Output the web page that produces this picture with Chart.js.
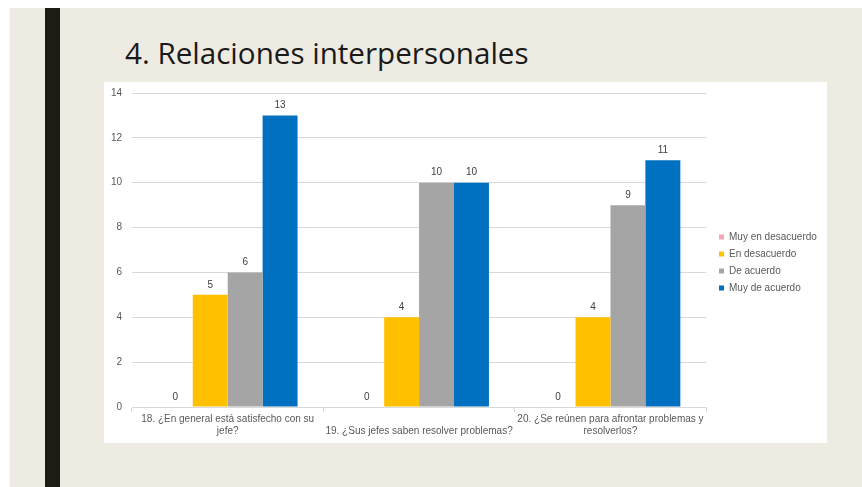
<!DOCTYPE html>
<html>
<head>
<meta charset="utf-8">
<script src="https://cdn.jsdelivr.net/npm/chart.js@4"></script>
<style>
  html, body { margin: 0; padding: 0; background: #ffffff; }
  body { width: 862px; height: 487px; position: relative; overflow: hidden; }
  #slide { position: absolute; left: 10px; top: 8px; width: 852px; height: 479px; background: #eeebe3; }
  #bar { position: absolute; left: 45px; top: 8px; width: 15px; height: 479px; background: #1c1c14; }
  #title { position: absolute; left: 125px; top: 38px; font-family: 'Open Sans', sans-serif; font-size: 29.6px; line-height: 30px; color: #1a1a1a; white-space: nowrap; }
  #box { position: absolute; left: 104px; top: 82px; width: 723px; height: 361px; background: #ffffff; }
</style>
</head>
<body>
<div id="slide"></div>
<div id="bar"></div>
<div id="title">4. Relaciones interpersonales</div>
<div id="box"><canvas id="relaciones_chart" width="723" height="361"></canvas></div>
<script>
const categories = [
  ['18. ¿En general está satisfecho con su', 'jefe?'],
  ['', '19. ¿Sus jefes saben resolver problemas?'],
  ['20. ¿Se reúnen para afrontar problemas y', 'resolverlos?'],
]
const seriesNames = ['Muy en desacuerdo', 'En desacuerdo', 'De acuerdo', 'Muy de acuerdo']
const muyEnDesacuerdo = [0, 0, 0]
const enDesacuerdo = [5, 4, 4]
const deAcuerdo = [6, 10, 9]
const muyDeAcuerdo = [13, 10, 11]
const yTicks = [0, 2, 4, 6, 8, 10, 12, 14]

const colors = ['#f2a7b6', '#ffc000', '#a5a5a5', '#0070c0']
const textColor = '#595959'
const gridColor = '#d9d9d9'

// put the legend where Excel puts it: centred on the whole chart box
const legendPlace = {
  id: 'legendPlace',
  afterLayout(chart) {
    const l = chart.legend
    l.top = 0
    l.bottom = chart.height
    l.left = 608
    l.right = 608 + l.width
  },
}

// value labels above each bar
const barValues = {
  id: 'barValues',
  afterDatasetsDraw(chart) {
    const ctx = chart.ctx
    ctx.save()
    ctx.font = '10px "Liberation Sans", Arial, sans-serif'
    ctx.fillStyle = '#404040'
    ctx.textAlign = 'center'
    ctx.textBaseline = 'middle'
    chart.data.datasets.forEach((ds, i) => {
      chart.getDatasetMeta(i).data.forEach((bar, j) => {
        ctx.fillText(ds.data[j], bar.x, bar.y - 10)
      })
    })
    ctx.restore()
  },
}

const ref = document.getElementById('relaciones_chart').getContext('2d')

new Chart(ref, {
  type: 'bar',
  data: {
    labels: categories,
    datasets: [
      { label: seriesNames[0], data: muyEnDesacuerdo, backgroundColor: colors[0] },
      { label: seriesNames[1], data: enDesacuerdo, backgroundColor: colors[1] },
      { label: seriesNames[2], data: deAcuerdo, backgroundColor: colors[2] },
      { label: seriesNames[3], data: muyDeAcuerdo, backgroundColor: colors[3] },
    ],
  },
  plugins: [legendPlace, barValues],
  options: {
    responsive: false,
    animation: false,
    devicePixelRatio: 1,
    layout: {
      padding: { top: 11, right: 6, bottom: 0, left: 0 },
    },
    datasets: {
      bar: {
        barPercentage: 1,
        categoryPercentage: 0.73,
      },
    },
    plugins: {
      legend: {
        position: 'right',
        labels: {
          boxWidth: 5,
          boxHeight: 5,
          padding: 7,
          color: textColor,
          font: { size: 10, family: '"Liberation Sans", Arial, sans-serif' },
        },
      },
      tooltip: { enabled: false },
    },
    scales: {
      x: {
        afterFit(scale) {
          scale.height = 36
        },
        grid: {
          offset: true,
          drawOnChartArea: false,
          drawTicks: true,
          tickLength: 5,
          color: gridColor,
        },
        border: { display: true, color: gridColor },
        ticks: {
          color: textColor,
          padding: 1,
          maxRotation: 0,
          autoSkip: false,
          font: { size: 10, family: '"Liberation Sans", Arial, sans-serif', lineHeight: 1.2 },
        },
      },
      y: {
        min: 0,
        max: 14,
        afterFit(scale) {
          scale.width = 28
        },
        afterBuildTicks(scale) {
          scale.ticks = yTicks.map((v) => ({ value: v }))
        },
        grid: {
          drawTicks: true,
          tickLength: 7,
          tickColor: 'rgba(0,0,0,0)',
          color: gridColor,
        },
        border: { display: false },
        ticks: {
          color: textColor,
          padding: 3,
          font: { size: 10, family: '"Liberation Sans", Arial, sans-serif' },
        },
      },
    },
  },
})
</script>
</body>
</html>
